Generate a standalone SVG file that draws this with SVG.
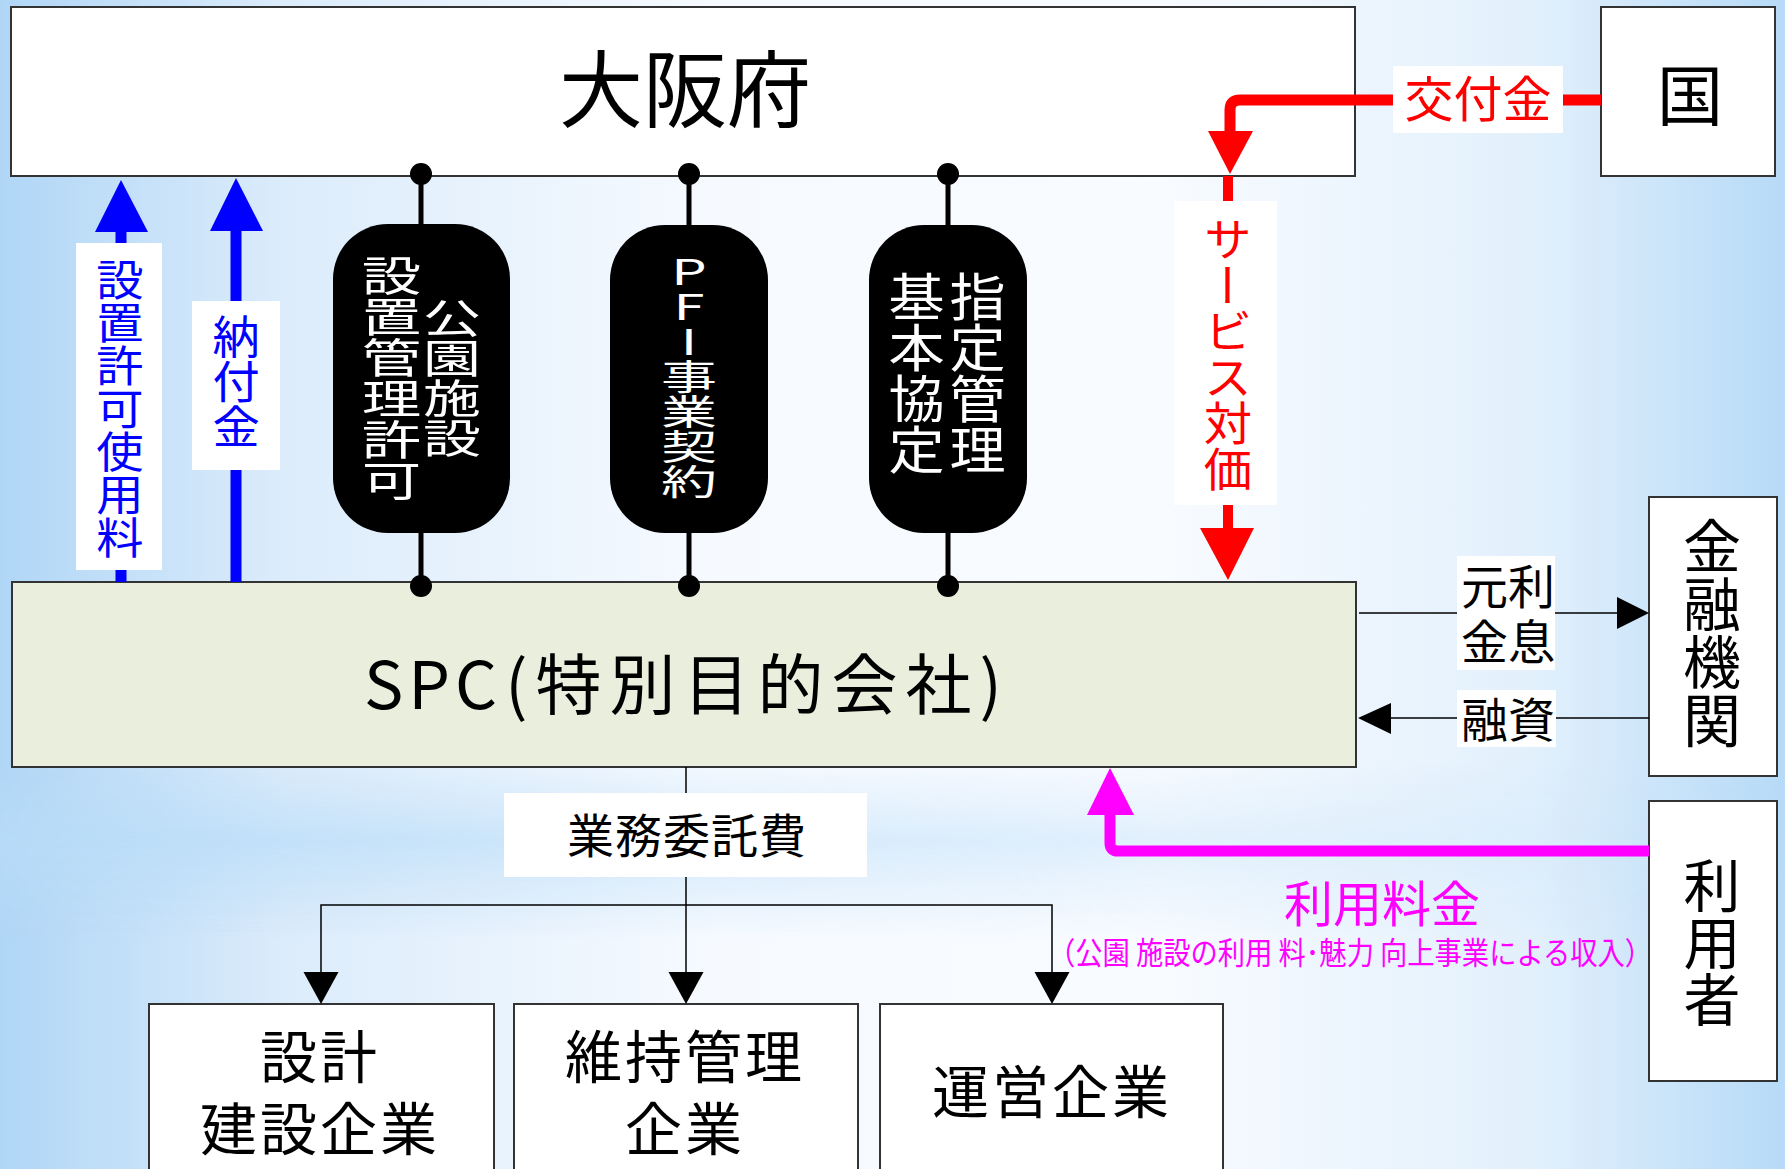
<svg xmlns="http://www.w3.org/2000/svg" width="1785" height="1169" viewBox="0 0 1785 1169">
<style>
.t{font-family:"Noto Sans CJK JP","Noto Sans CJK SC",sans-serif;}
.c{dominant-baseline:central;text-anchor:middle;}
.v{writing-mode:vertical-rl;text-orientation:upright;text-anchor:start;}
.box{fill:#ffffff;stroke:#333333;stroke-width:2;}
.lbl{fill:#ffffff;}
.k{stroke:#000000;stroke-width:1.5;fill:none;}
.pl{stroke:#000000;stroke-width:5;}
</style>
<defs>
<linearGradient id="bg" x1="0" y1="0" x2="1" y2="0">
<stop offset="0" stop-color="#b0d6f6"/>
<stop offset="0.16" stop-color="#dcecfb"/>
<stop offset="0.4" stop-color="#f6faff"/>
<stop offset="0.65" stop-color="#f8fbff"/>
<stop offset="0.86" stop-color="#e2f0fc"/>
<stop offset="1" stop-color="#b6daf7"/>
</linearGradient>
<linearGradient id="band" x1="0" y1="0" x2="0" y2="1">
<stop offset="0" stop-color="#b8dcf8" stop-opacity="0"/>
<stop offset="0.45" stop-color="#b8dcf8" stop-opacity="0.8"/>
<stop offset="1" stop-color="#b8dcf8" stop-opacity="0"/>
</linearGradient>
<linearGradient id="bandfade" x1="0" y1="0" x2="1" y2="0">
<stop offset="0" stop-color="#fff" stop-opacity="1"/>
<stop offset="0.6" stop-color="#fff" stop-opacity="0.5"/>
<stop offset="1" stop-color="#fff" stop-opacity="0"/>
</linearGradient>
<mask id="bm"><rect x="0" y="0" width="1785" height="1169" fill="url(#bandfade)"/></mask>
</defs>
<rect id="background" x="0" y="0" width="1785" height="1169" fill="url(#bg)"/>
<g mask="url(#bm)">
<rect x="0" y="760" width="1785" height="180" fill="url(#band)"/>
</g>

<g id="osaka">
<rect class="box" x="11" y="7" width="1344" height="169"/>
<text class="t c" x="685" y="84" font-size="84" fill="#000">大阪府</text>
</g>

<g id="kuni">
<rect class="box" x="1601" y="7" width="174" height="169"/>
<text class="t c" x="1690" y="91" font-size="66" fill="#000">国</text>
</g>

<g id="spc">
<rect x="12" y="582" width="1344" height="185" fill="#e9efdc" stroke="#333333" stroke-width="2"/>
<text class="t" x="364" y="680" font-size="66" dominant-baseline="central" fill="#000"><tspan letter-spacing="5">SPC</tspan><tspan letter-spacing="8" dx="3">(特別目的会社)</tspan></text>
</g>

<g id="kinyu">
<rect class="box" x="1649" y="497" width="128" height="279"/>
<text class="t v" x="1712" y="517" font-size="58" fill="#000">金融機関</text>
</g>

<g id="riyosha">
<rect class="box" x="1649" y="801" width="128" height="280"/>
<text class="t v" x="1712" y="857" font-size="57" fill="#000">利用者</text>
</g>

<g id="sekkei">
<rect class="box" x="149" y="1004" width="345" height="175"/>
<text class="t c" font-size="57" letter-spacing="3" fill="#000"><tspan x="320" y="1053">設計</tspan><tspan x="320" y="1125">建設企業</tspan></text>
</g>

<g id="iji">
<rect class="box" x="514" y="1004" width="344" height="175"/>
<text class="t c" font-size="57" letter-spacing="3" fill="#000"><tspan x="685" y="1053">維持管理</tspan><tspan x="685" y="1125">企業</tspan></text>
</g>

<g id="unei">
<rect class="box" x="880" y="1004" width="343" height="175"/>
<text class="t c" x="1052" y="1088" font-size="57" letter-spacing="3" fill="#000">運営企業</text>
</g>

<g id="connectors">
<rect x="115.5" y="230" width="11" height="352" fill="#0000ff"/>
<path d="M121,180 L148,232 L95,232 Z" fill="#0000ff"/>
<rect x="230.5" y="229" width="11" height="353" fill="#0000ff"/>
<path d="M236,178 L263,231 L210,231 Z" fill="#0000ff"/>
<line class="pl" x1="421" y1="174" x2="421" y2="586"/>
<line class="pl" x1="689" y1="174" x2="689" y2="586"/>
<line class="pl" x1="948" y1="174" x2="948" y2="586"/>
<path d="M1601,100 H1240 Q1230,100 1230,110 V136" fill="none" stroke="#ff0000" stroke-width="11"/>
<path d="M1230,174 L1253,131 L1208,131 Z" fill="#ff0000"/>
<line x1="1228" y1="176" x2="1228" y2="532" stroke="#ff0000" stroke-width="10"/>
<path d="M1228,580 L1254,528 L1200,528 Z" fill="#ff0000"/>
<path d="M1649,851 H1118 Q1110,851 1110,843 V812" fill="none" stroke="#ff00ff" stroke-width="11"/>
<path d="M1110,768 L1134,815 L1087,815 Z" fill="#ff00ff"/>
<line class="k" x1="1359" y1="613" x2="1618" y2="613"/>
<path d="M1649,613 L1617,597 L1617,629 Z" fill="#000"/>
<line class="k" x1="1649" y1="718" x2="1388" y2="718"/>
<path d="M1358,718 L1391,703 L1391,734 Z" fill="#000"/>
<path class="k" d="M686,767 V975"/>
<path class="k" d="M321,975 V905 H1052 V975"/>
<path d="M321,1004 L338.5,972 L303.5,972 Z" fill="#000"/>
<path d="M686,1004 L703.5,972 L668.5,972 Z" fill="#000"/>
<path d="M1052,1004 L1069.5,972 L1034.5,972 Z" fill="#000"/>
</g>

<g id="dots" fill="#000">
<circle cx="421" cy="174" r="11"/><circle cx="421" cy="586" r="11"/>
<circle cx="689" cy="174" r="11"/><circle cx="689" cy="586" r="11"/>
<circle cx="948" cy="174" r="11"/><circle cx="948" cy="586" r="11"/>
</g>

<g id="pill1">
<rect x="333" y="224" width="177" height="309" rx="55" ry="55" fill="#000"/>
<text class="t v" transform="translate(391.5,255) scale(1.45,1)" x="0" y="0" font-size="41" fill="#fff">設置管理許可</text>
<text class="t v" transform="translate(452,298) scale(1.45,1)" x="0" y="0" font-size="40" fill="#fff">公園施設</text>
</g>

<g id="pill2">
<rect x="610" y="225" width="158" height="308" rx="55" ry="55" fill="#000"/>
<text class="t v" transform="translate(689,254) scale(1.6,1)" x="0" y="0" font-size="35" fill="#fff">PFI事業契約</text>
</g>

<g id="pill3">
<rect x="869" y="225" width="158" height="308" rx="55" ry="55" fill="#000"/>
<text class="t v" transform="translate(916.5,271) scale(1.1,1)" x="0" y="0" font-size="51" fill="#fff">基本協定</text>
<text class="t v" transform="translate(977.5,271) scale(1.1,1)" x="0" y="0" font-size="51" fill="#fff">指定管理</text>
</g>

<g id="label-shiyoryo">
<rect class="lbl" x="76" y="243" width="86" height="327"/>
<text class="t v" transform="translate(120,258) scale(1.1,1)" x="0" y="0" font-size="43" fill="#0000ff">設置許可使用料</text>
</g>

<g id="label-nofukin">
<rect class="lbl" x="192" y="301" width="88" height="169"/>
<text class="t v" transform="translate(236,314) scale(1.05,1)" x="0" y="0" font-size="45" fill="#0000ff">納付金</text>
</g>

<g id="label-kofukin">
<rect class="lbl" x="1393" y="66" width="170" height="67"/>
<text class="t c" x="1478" y="95" font-size="49" fill="#ff0000">交付金</text>
</g>

<g id="label-service">
<rect class="lbl" x="1174" y="201" width="103" height="304"/>
<text class="t v" transform="translate(1228,216) scale(1.05,1)" x="0" y="0" font-size="46" fill="#ff0000">サービス対価</text>
</g>

<g id="label-ganri">
<rect class="lbl" x="1457" y="556" width="98" height="114"/>
<text class="t c" font-size="47" fill="#000"><tspan x="1508" y="583">元利</tspan><tspan x="1508" y="638">金息</tspan></text>
</g>

<g id="label-yushi">
<rect class="lbl" x="1457" y="690" width="99" height="57"/>
<text class="t c" x="1508" y="716" font-size="47" fill="#000">融資</text>
</g>

<g id="label-riyoryokin">
<text class="t c" x="1382" y="900" font-size="49" fill="#ff00ff">利用料金</text>
<text class="t c" x="1350" y="950" font-size="31" textLength="604" lengthAdjust="spacingAndGlyphs" fill="#ff00ff">（公園 施設の利用 料･魅力 向上事業による収入）</text>
</g>

<g id="label-gyomu">
<rect class="lbl" x="504" y="793" width="363" height="84"/>
<text class="t c" x="687" y="832" font-size="47" letter-spacing="1" fill="#000">業務委託費</text>
</g>
</svg>
